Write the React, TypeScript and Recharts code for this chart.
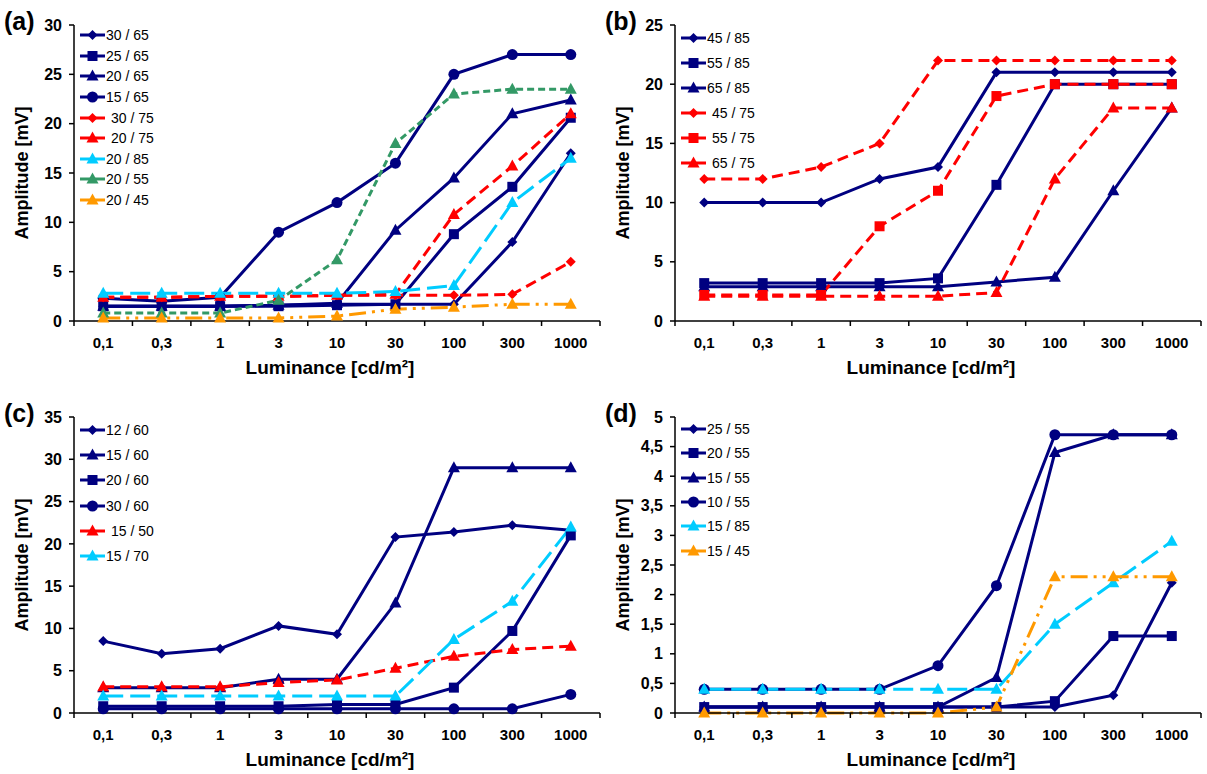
import React from 'react';
import { LineChart, Line, XAxis, YAxis, Legend } from 'recharts';

const categories = ['0,1', '0,3', '1', '3', '10', '30', '100', '300', '1000'];

// panel (a)
const a30_65 = [1.5, 1.5, 1.5, 1.6, 1.7, 1.7, 1.7, 8, 17];
const a25_65 = [1.5, 1.5, 1.5, 1.5, 1.6, 1.7, 8.8, 13.6, 20.6];
const a20_65 = [1.5, 1.5, 1.5, 1.6, 1.8, 9.2, 14.5, 21, 22.4];
const a15_65 = [2.3, 2.0, 2.4, 9, 12, 16, 25, 27, 27];
const a30_75 = [2.4, 2.4, 2.5, 2.5, 2.6, 2.6, 2.6, 2.7, 6.0];
const a20_75 = [2.4, 2.4, 2.5, 2.5, 2.6, 2.7, 10.8, 15.7, 21];
const a20_85 = [2.8, 2.8, 2.8, 2.8, 2.8, 3.0, 3.6, 12, 16.5];
const a20_55 = [0.8, 0.8, 0.8, 2.1, 6.2, 18, 23, 23.5, 23.5];
const a20_45 = [0.3, 0.3, 0.3, 0.3, 0.5, 1.2, 1.4, 1.7, 1.7];
const ticksA = [0, 5, 10, 15, 20, 25, 30];

// panel (b)
const b45_85 = [10, 10, 10, 12, 13, 21, 21, 21, 21];
const b55_85 = [3.2, 3.2, 3.2, 3.2, 3.6, 11.5, 20, 20, 20];
const b65_85 = [2.9, 2.9, 2.9, 2.9, 2.9, 3.3, 3.7, 11, 18];
const b45_75 = [12, 12, 13, 15, 22, 22, 22, 22, 22];
const b55_75 = [2.2, 2.2, 2.2, 8, 11, 19, 20, 20, 20];
const b65_75 = [2.1, 2.1, 2.1, 2.1, 2.1, 2.4, 12, 18, 18];
const ticksB = [0, 5, 10, 15, 20, 25];

// panel (c)
const c12_60 = [8.5, 7, 7.6, 10.3, 9.3, 20.8, 21.4, 22.2, 21.6];
const c15_60 = [3, 3, 3, 4, 4, 13, 29, 29, 29];
const c20_60 = [0.8, 0.8, 0.8, 0.8, 1, 1, 3, 9.7, 21];
const c30_60 = [0.5, 0.5, 0.5, 0.5, 0.5, 0.5, 0.5, 0.5, 2.2];
const c15_50 = [3.1, 3.1, 3.1, 3.6, 3.9, 5.3, 6.7, 7.5, 7.9];
const c15_70 = [2, 2, 2, 2, 2, 2, 8.7, 13.2, 22];
const ticksC = [0, 5, 10, 15, 20, 25, 30, 35];

// panel (d)
const d25_55 = [0.1, 0.1, 0.1, 0.1, 0.1, 0.1, 0.1, 0.3, 2.2];
const d20_55 = [0.1, 0.1, 0.1, 0.1, 0.1, 0.1, 0.2, 1.3, 1.3];
const d15_55 = [0.1, 0.1, 0.1, 0.1, 0.1, 0.6, 4.4, 4.7, 4.7];
const d10_55 = [0.4, 0.4, 0.4, 0.4, 0.8, 2.15, 4.7, 4.7, 4.7];
const d15_85 = [0.4, 0.4, 0.4, 0.4, 0.4, 0.4, 1.5, 2.2, 2.9];
const d15_45 = [0, 0, 0, 0, 0, 0.1, 2.3, 2.3, 2.3];
const ticksD = [0, 0.5, 1, 1.5, 2, 2.5, 3, 3.5, 4, 4.5, 5];

const NAVY = '#000080';
const RED = '#ff0000';
const CYAN = '#00ccff';
const GREEN = '#339966';
const ORANGE = '#ff9900';

const FONT = "Arial, 'Liberation Sans', sans-serif";

type Shape = 'diamond' | 'square' | 'triangle' | 'circle';
type Serie = { name: string; values: number[]; color: string; dash?: string; shape: Shape };

const styles = {
  navy: { color: NAVY },
  red: { color: RED, dash: '11 6' },
  cyan: { color: CYAN, dash: '20 7' },
  green: { color: GREEN, dash: '7 4' },
  orange: { color: ORANGE, dash: '17 6 3 6 3 6' },
};

const panels: { id: string; left: number; top: number; ticks: number[]; step: number; series: Serie[] }[] = [
  {
    id: 'a', left: 0, top: 0, ticks: ticksA, step: 20.6,
    series: [
      { name: '30 / 65', values: a30_65, shape: 'diamond', ...styles.navy },
      { name: '25 / 65', values: a25_65, shape: 'square', ...styles.navy },
      { name: '20 / 65', values: a20_65, shape: 'triangle', ...styles.navy },
      { name: '15 / 65', values: a15_65, shape: 'circle', ...styles.navy },
      { name: '30 / 75', values: a30_75, shape: 'diamond', ...styles.red },
      { name: '20 / 75', values: a20_75, shape: 'triangle', ...styles.red },
      { name: '20 / 85', values: a20_85, shape: 'triangle', ...styles.cyan },
      { name: '20 / 55', values: a20_55, shape: 'triangle', ...styles.green },
      { name: '20 / 45', values: a20_45, shape: 'triangle', ...styles.orange },
    ],
  },
  {
    id: 'b', left: 601, top: 0, ticks: ticksB, step: 25,
    series: [
      { name: '45 / 85', values: b45_85, shape: 'diamond', ...styles.navy },
      { name: '55 / 85', values: b55_85, shape: 'square', ...styles.navy },
      { name: '65 / 85', values: b65_85, shape: 'triangle', ...styles.navy },
      { name: '45 / 75', values: b45_75, shape: 'diamond', ...styles.red },
      { name: '55 / 75', values: b55_75, shape: 'square', ...styles.red },
      { name: '65 / 75', values: b65_75, shape: 'triangle', ...styles.red },
    ],
  },
  {
    id: 'c', left: 0, top: 392, ticks: ticksC, step: 25.3,
    series: [
      { name: '12 / 60', values: c12_60, shape: 'diamond', ...styles.navy },
      { name: '15 / 60', values: c15_60, shape: 'triangle', ...styles.navy },
      { name: '20 / 60', values: c20_60, shape: 'square', ...styles.navy },
      { name: '30 / 60', values: c30_60, shape: 'circle', ...styles.navy },
      { name: '15 / 50', values: c15_50, shape: 'triangle', ...styles.red },
      { name: '15 / 70', values: c15_70, shape: 'triangle', ...styles.cyan },
    ],
  },
  {
    id: 'd', left: 601, top: 392, ticks: ticksD, step: 24.3,
    series: [
      { name: '25 / 55', values: d25_55, shape: 'diamond', ...styles.navy },
      { name: '20 / 55', values: d20_55, shape: 'square', ...styles.navy },
      { name: '15 / 55', values: d15_55, shape: 'triangle', ...styles.navy },
      { name: '10 / 55', values: d10_55, shape: 'circle', ...styles.navy },
      { name: '15 / 85', values: d15_85, shape: 'triangle', ...styles.cyan },
      { name: '15 / 45', values: d15_45, shape: 'triangle', ...styles.orange },
    ],
  },
];

const CHART_W = 603;
const CHART_H = 382;
const Y_W = 74;
const TOP = 25;
const PLOT_H = 296;
const PLOT_W = CHART_W - Y_W - 3;
const HALF_BAND = PLOT_W / categories.length / 2;

const Marker = ({ cx, cy, shape, color }: { cx?: number; cy?: number; shape: Shape; color: string }) => {
  if (cx == null || cy == null) return null;
  if (shape === 'diamond')
    return <polygon points={`${cx},${cy - 5} ${cx + 5},${cy} ${cx},${cy + 5} ${cx - 5},${cy}`} fill={color} />;
  if (shape === 'square') return <rect x={cx - 5} y={cy - 5} width={10} height={10} fill={color} />;
  if (shape === 'triangle')
    return <polygon points={`${cx},${cy - 6.5} ${cx + 6},${cy + 4.5} ${cx - 6},${cy + 4.5}`} fill={color} />;
  return <circle cx={cx} cy={cy} r={5.5} fill={color} />;
};

const XTick = (props: any) => {
  const { x, y, payload, index } = props;
  const axisY = y - 8;
  return (
    <g>
      {index === 0 && <line x1={x - HALF_BAND} x2={x - HALF_BAND} y1={axisY} y2={axisY + 5} stroke="#000" strokeWidth={1.5} />}
      <line x1={x + HALF_BAND} x2={x + HALF_BAND} y1={axisY} y2={axisY + 5} stroke="#000" strokeWidth={1.5} />
      <text x={x} y={y + 18.5} textAnchor="middle" fontSize={15} fontWeight="bold" fontFamily={FONT} fill="#000">
        {payload.value}
      </text>
    </g>
  );
};

const YTitle = () => (
  <text
    x={0}
    y={0}
    transform={`translate(28, ${TOP + PLOT_H / 2}) rotate(-90)`}
    textAnchor="middle"
    fontSize={18}
    fontWeight="bold"
    fontFamily={FONT}
    fill="#000"
  >
    Amplitude [mV]
  </text>
);

const XTitle = () => (
  <text x={330} y={TOP + PLOT_H + 53} textAnchor="middle" fontSize={19} fontWeight="bold" fontFamily={FONT} fill="#000">
    Luminance [cd/m²]
  </text>
);

const LegendBox = ({ series, step }: { series: Serie[]; step: number }) => (
  <div style={{ fontFamily: FONT, fontSize: 14, color: '#000' }}>
    {series.map((s) => (
      <div key={s.name} style={{ display: 'flex', alignItems: 'center', height: step }}>
        <svg width={25} height={14} style={{ display: 'block' }}>
          <line x1={0} x2={25} y1={7} y2={7} stroke={s.color} strokeWidth={3} />
          <Marker cx={12.5} cy={7} shape={s.shape} color={s.color} />
        </svg>
        <span style={{ marginLeft: s.color === RED ? 6 : 1 }}>{s.name}</span>
      </div>
    ))}
  </div>
);

const fmt = (v: number) => String(v).replace('.', ',');

const Panel = ({ p }: { p: (typeof panels)[number] }) => {
  const rows = categories.map((c, i) => {
    const row: Record<string, string | number> = { lum: c };
    p.series.forEach((s, k) => {
      row[`s${k}`] = s.values[i];
    });
    return row;
  });
  const yMax = p.ticks[p.ticks.length - 1];
  return (
    <div style={{ position: 'absolute', left: p.left, top: p.top, width: CHART_W, height: CHART_H }}>
      <LineChart width={CHART_W} height={CHART_H} data={rows} margin={{ top: TOP, right: 3, left: 0, bottom: 0 }}>
        <XAxis
          dataKey="lum"
          height={CHART_H - TOP - PLOT_H}
          interval={0}
          padding={{ left: HALF_BAND, right: HALF_BAND }}
          tickLine={false}
          axisLine={{ stroke: '#000', strokeWidth: 1.5 }}
          tick={<XTick />}
          label={<XTitle />}
        />
        <YAxis
          width={Y_W}
          domain={[0, yMax]}
          ticks={p.ticks}
          interval={0}
          tickFormatter={fmt}
          tickSize={5}
          tickMargin={7}
          axisLine={{ stroke: '#000', strokeWidth: 1.5 }}
          tickLine={{ stroke: '#000', strokeWidth: 1.5 }}
          tick={{ fontSize: 16, fontWeight: 'bold', fill: '#000', fontFamily: FONT }}
          label={<YTitle />}
        />
        <Legend
          layout="vertical"
          align="center"
          verticalAlign="middle"
          wrapperStyle={{ left: 80, top: TOP, width: 'auto' }}
          content={() => <LegendBox series={p.series} step={p.step} />}
        />
        {p.series.map((s, k) => (
          <Line
            key={s.name}
            dataKey={`s${k}`}
            name={s.name}
            type="linear"
            stroke={s.color}
            strokeWidth={3}
            strokeDasharray={s.dash}
            dot={(d: any) => <Marker key={`${s.name}-${d.index}`} cx={d.cx} cy={d.cy} shape={s.shape} color={s.color} />}
            activeDot={false}
            isAnimationActive={false}
          />
        ))}
      </LineChart>
      <div
        style={{
          position: 'absolute',
          left: 4,
          top: 9,
          fontFamily: FONT,
          fontSize: 25,
          fontWeight: 'bold',
          lineHeight: 1,
          color: '#000',
        }}
      >
        ({p.id})
      </div>
    </div>
  );
};

export default function App() {
  return (
    <div style={{ position: 'absolute', left: 0, top: 0, width: 1207, height: 774, background: '#fff' }}>
      {panels.map((p) => (
        <Panel key={p.id} p={p} />
      ))}
    </div>
  );
}
